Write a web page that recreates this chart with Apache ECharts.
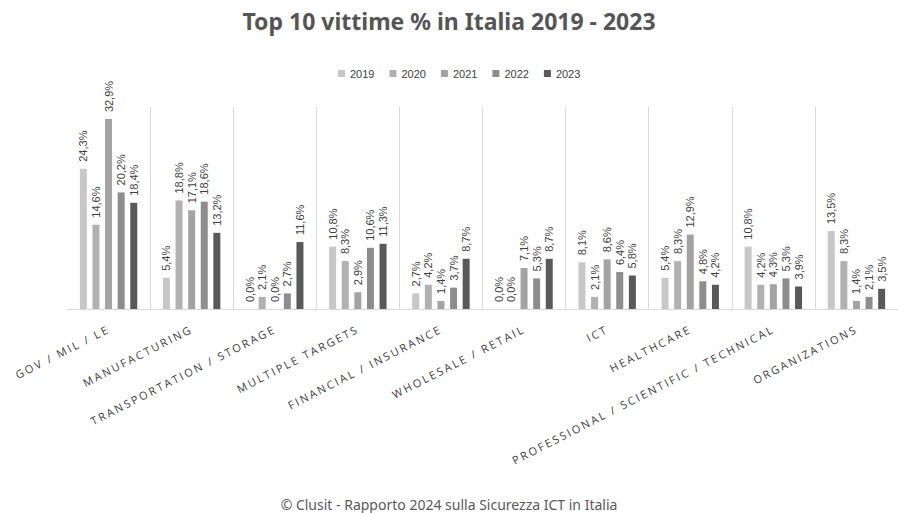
<!DOCTYPE html>
<html>
<head>
<meta charset="utf-8">
<title>Top 10 vittime % in Italia 2019 - 2023</title>
<script src="https://cdn.jsdelivr.net/npm/echarts@6/dist/echarts.min.js"></script>
<style>
  html, body { margin: 0; padding: 0; background: #fff; }
  #chart { width: 898px; height: 513px; }
  /* spaziatura lettere delle etichette dell'asse (stile Excel) */
  #chart text[style*="Open Sans"] { letter-spacing: 2.2px; }
</style>
</head>
<body>
<div id="chart"></div>
<script>
// settori (asse x)
const categories = [
  'GOV / MIL / LE',
  'MANUFACTURING',
  'TRANSPORTATION / STORAGE',
  'MULTIPLE TARGETS',
  'FINANCIAL / INSURANCE',
  'WHOLESALE / RETAIL',
  'ICT',
  'HEALTHCARE',
  'PROFESSIONAL / SCIENTIFIC / TECHNICAL',
  'ORGANIZATIONS'
]

const years = ['2019', '2020', '2021', '2022', '2023']

// valori % per anno
const v2019 = [24.3, 5.4, 0.0, 10.8, 2.7, 0.0, 8.1, 5.4, 10.8, 13.5]
const v2020 = [14.6, 18.8, 2.1, 8.3, 4.2, 0.0, 2.1, 8.3, 4.2, 8.3]
const v2021 = [32.9, 17.1, 0.0, 2.9, 1.4, 7.1, 8.6, 12.9, 4.3, 1.4]
const v2022 = [20.2, 18.6, 2.7, 10.6, 3.7, 5.3, 6.4, 4.8, 5.3, 2.1]
const v2023 = [18.4, 13.2, 11.6, 11.3, 8.7, 8.7, 5.8, 4.2, 3.9, 3.5]

const seriesValues = [v2019, v2020, v2021, v2022, v2023]
const colors = ['#c7c7c7', '#b1b1b1', '#a3a3a3', '#8d8d8d', '#595959']

// formato italiano: 24,3%
const formatPct = (v) => v.toFixed(1).replace('.', ',') + '%'

const chart = echarts.init(document.getElementById('chart'), null, { renderer: 'svg' })

const option = {
  animation: false,
  color: colors,
  title: [
    {
      text: 'Top 10 vittime % in Italia 2019 - 2023',
      left: 'center',
      top: 4,
      textStyle: {
        fontFamily: 'Noto Sans',
        fontWeight: 'bold',
        fontSize: 23,
        color: '#555555'
      }
    },
    {
      text: '© Clusit - Rapporto 2024 sulla Sicurezza ICT in Italia',
      left: 'center',
      top: 492,
      textStyle: {
        fontFamily: 'Noto Sans',
        fontWeight: 'normal',
        fontSize: 14,
        color: '#595959'
      }
    }
  ],
  legend: {
    data: years,
    left: 338,
    top: 68,
    padding: 0,
    icon: 'rect',
    itemWidth: 7,
    itemHeight: 7,
    itemGap: 15,
    textStyle: {
      fontFamily: 'Liberation Sans',
      fontSize: 11,
      color: '#404040'
    }
  },
  grid: {
    left: 67,
    right: -9,
    top: 107,
    bottom: 204
  },
  xAxis: {
    type: 'category',
    data: categories,
    axisLine: { lineStyle: { color: '#d9d9d9', width: 1 } },
    axisTick: { show: false },
    splitLine: {
      show: true,
      interval: (index) => index > 0,
      lineStyle: { color: '#d9d9d9', width: 1 }
    },
    axisLabel: {
      interval: 0,
      rotate: 27,
      margin: 19,
      fontFamily: 'Open Sans',
      fontSize: 11,
      color: '#404040'
    }
  },
  yAxis: {
    type: 'value',
    min: 0,
    max: 35,
    show: false,
    splitLine: { show: false }
  },
  series: years.map((year, i) => ({
    name: year,
    type: 'bar',
    data: seriesValues[i],
    barWidth: 7,
    barGap: '80%',
    itemStyle: { color: colors[i] },
    label: {
      show: true,
      position: 'top',
      rotate: 90,
      align: 'left',
      verticalAlign: 'middle',
      distance: 7,
      fontFamily: 'Liberation Sans',
      fontSize: 11,
      color: '#404040',
      formatter: (p) => formatPct(p.value)
    }
  }))
}

chart.setOption(option)
</script>
</body>
</html>
